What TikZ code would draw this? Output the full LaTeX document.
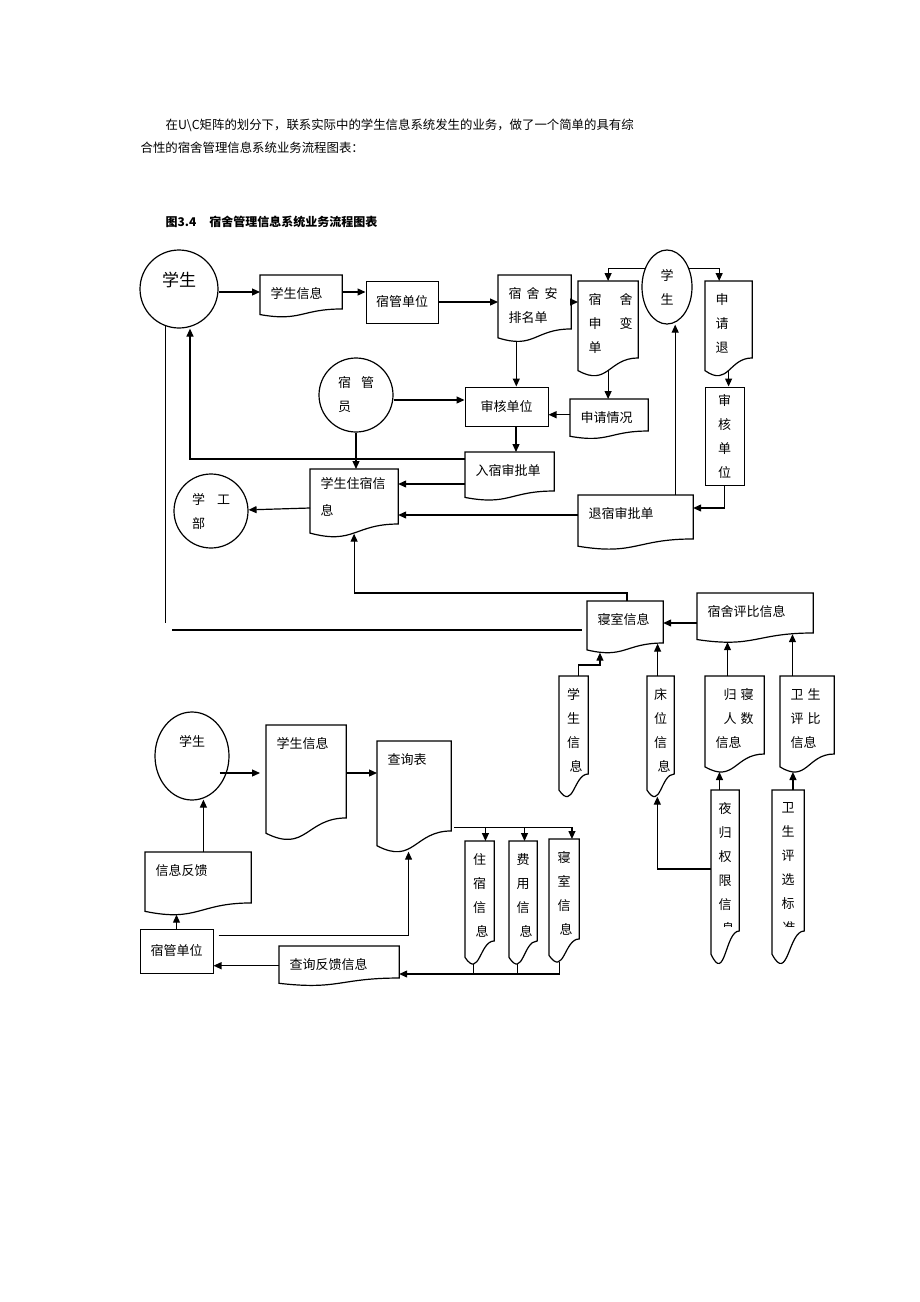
\documentclass[tikz,border=0pt]{standalone}
\usepackage{fontspec}
\setmainfont{Noto Sans CJK SC}
\usepackage{tikz}
\usetikzlibrary{arrows.meta,calc,shapes.geometric}

% document symbol: box with a wavy bottom
\newcommand{\wavedoc}[1]{%
  \draw (#1.north west) -- (#1.north east)
    -- ($(#1.north east)!0.8126!(#1.south east)$)
    .. controls ($(#1.north)!0.8126!(#1.south)$) and ($(#1.north)!1.1216!(#1.south)$)
    .. ($(#1.north west)!0.9463!(#1.south west)$) -- cycle;}

\begin{document}
\begin{tikzpicture}[x=1pt,y=-1pt,line width=1.2pt,
    arr/.style={-{Triangle[length=8pt,width=7pt]}},
    rbox/.style={draw,rectangle,inner sep=0pt,line width=1pt,align=center,font=\fontsize{13pt}{24pt}\selectfont},
    circ/.style={draw,circle,inner sep=0pt,align=left,font=\fontsize{13pt}{24pt}\selectfont},
    oval/.style={draw,ellipse,inner sep=0pt,align=center,font=\fontsize{13pt}{24pt}\selectfont},
    docu/.style 2 args={anchor=north west,inner sep=0pt,font=\fontsize{13pt}{24pt}\selectfont,
      execute at begin node={\begin{minipage}[t][#2pt][t]{#1pt}\raggedright\leftskip=10pt\vspace*{12pt}},
      execute at end node={\end{minipage}}},
    para/.style={anchor=west,inner sep=0pt,font=\fontsize{12.4pt}{16pt}\selectfont}
  ]
\path[fill=white,use as bounding box] (0,0) rectangle (920,1302);

\node[para] (intro1) at (165,125) {在U\textbackslash C矩阵的划分下，联系实际中的学生信息系统发生的业务，做了一个简单的具有综};
\node[para] (intro2) at (140,148) {合性的宿舍管理信息系统业务流程图表：};
\node[para,font=\fontsize{12pt}{16pt}\selectfont] (title) at (165,222) {\textbf{图3.4}\hspace{13pt}\textbf{宿舍管理信息系统业务流程图表}};

% upper chart
\node[circ,minimum size=78pt,font=\fontsize{17pt}{20pt}\selectfont] (stuA) at (179,289) {\raisebox{2.5pt}[0pt][0pt]{学生}};
\node[docu={81}{40.6}] (sinfoA) at (260,275) {学生信息};
\wavedoc{sinfoA}
\node[rbox,minimum width=72pt,minimum height=42pt] (sgdwA) at (402,302) {宿管单位};
\node[docu={72}{65.2}] (apdA) at (498,275) {宿\hspace{5pt}舍\hspace{5pt}安\\排名单};
\wavedoc{apdA}
\node[docu={59}{93.5}] (sqbdA) at (578,281) {宿\hspace{18pt}舍\\申\hspace{18pt}变\\单};
\wavedoc{sqbdA}
\node[oval,minimum width=50pt,minimum height=74pt] (stuB) at (667,287) {学\\生};
\node[docu={46}{93.5}] (sqtA) at (705,281) {申\\请\\退};
\wavedoc{sqtA}
\node[rbox,minimum width=39pt,minimum height=98pt] (shdwB) at (724.5,436) {审\\核\\单\\位};
\node[docu={114}{52.9}] (tsspd) at (578,495) {退宿审批单};
\wavedoc{tsspd}
\node[rbox,minimum width=83pt,minimum height=39pt] (shdwA) at (506.5,406.5) {审核单位};
\node[docu={77}{38.2}] (sqqk) at (570,399) {申请情况};
\wavedoc{sqqk}
\node[circ,minimum size=74pt] (sgy) at (356,395) {宿\hspace{10pt}管\\员};
\node[docu={88}{46.8}] (rsspd) at (465,452) {入宿审批单};
\wavedoc{rsspd}
\node[docu={87}{66.5}] (zsxx) at (310,469) {\vspace*{-4pt}学生住宿信\\[3pt]息};
\wavedoc{zsxx}
\node[circ,minimum size=74pt] (xgb) at (211,511) {学\hspace{12pt}工\\部};

\node[docu={75}{50.5}] (qsxxA) at (587,601) {寝室信息};
\wavedoc{qsxxA}
\node[docu={115}{48}] (pbxx) at (697,593) {宿舍评比信息};
\wavedoc{pbxx}
\node[docu={28}{119.4}] (xsxxV) at (559,676) {\centering 学\\生\\信\\息};
\wavedoc{xsxxV}
\node[docu={26}{119.4}] (cwxx) at (647,676) {\centering 床\\位\\信\\息};
\wavedoc{cwxx}
\node[docu={58}{94.8}] (gqrs) at (705,676) {\leftskip=18pt 归\hspace{4pt}寝\\人\hspace{4pt}数\\信息};
\wavedoc{gqrs}
\node[docu={53}{94.8}] (wspb) at (780,676) {卫\hspace{4pt}生\\评\hspace{4pt}比\\信息};
\wavedoc{wspb}
\begin{scope}
  \clip (711,790) rectangle (738,926);
  \node[docu={27}{172.3}] (ygqx) at (711,790) {\centering 夜\\归\\权\\限\\信\\息};
\end{scope}
\wavedoc{ygqx}
\begin{scope}
  \clip (772,790) rectangle (803,926);
  \node[docu={31}{172.3}] (wspx) at (772,790) {\centering 卫\\生\\评\\选\\标\\准};
\end{scope}
\wavedoc{wspx}

\draw[arr] ([yshift=-3pt]stuA.east) coordinate (st1) -- (st1 -| sinfoA.west);
\draw[arr] (st1 -| sinfoA.east) -- (st1 -| sgdwA.west);
\draw[arr] (sgdwA.east) -- (sgdwA.east -| apdA.west);
\draw[arr] (sgdwA.east -| apdA.east) -- (sgdwA.east -| sqbdA.west);
\draw[arr] (stuB.140) -| (sqbdA.north);
\draw[arr] (stuB.40) -| ($(sqtA.north west)!.3!(sqtA.north east)$);
\draw[arr] ($(apdA.south west)!.25!(apdA.south east)$) coordinate (apd1) -- (apd1 |- shdwA.north);
\draw[arr] ([yshift=5pt]sqbdA.south) coordinate (sqb1) -- (sqb1 |- sqqk.north);
\draw[arr] ([yshift=4pt]sqqk.west) coordinate (sqq1) -- (sqq1 -| shdwA.east);
\draw[arr] ([yshift=-5pt]sgy.east) coordinate (sgy1) -- (sgy1 -| shdwA.west);
\draw[arr] ([xshift=9.5pt]shdwA.south) coordinate (shd1) -- (shd1 |- rsspd.north);
\draw[arr] (sgy.south) -- (sgy.south |- zsxx.north);
\draw[arr] ([yshift=-7pt]rsspd.north west) -| ([xshift=11pt]stuA.south);
\draw[arr] ([yshift=-32pt]rsspd.north west) coordinate (rs1) -- (rs1 -| zsxx.east);
\draw[arr] ([yshift=-20pt]tsspd.north west) coordinate (ts1) -- (ts1 -| zsxx.east);
\draw[arr] ([yshift=-39pt]zsxx.north west) -- (xgb);
\draw[arr] ([yshift=5pt]sqtA.south) coordinate (sqt1) -- (sqt1 |- shdwB.north);
\draw[arr] (shdwB.south) |- ([yshift=-13pt]tsspd.north east);
\draw[arr] ([xshift=-18pt]tsspd.north east) coordinate (ts2) -- (ts2 |- stuB.south);

\draw[arr] ([xshift=40pt]qsxxA.north west) coordinate (qs1) -- (qs1 |- pbxx.north) -| ([yshift=3pt]zsxx.south);
\coordinate (lv) at (166,623);
\draw (stuA.250) -- (stuA.250 |- lv);
\coordinate (lh) at (172,630);
\draw[shorten >=5pt] (lh) -- (lh -| qsxxA.west);
\draw[arr] ([yshift=-30pt]pbxx.north west) coordinate (pb1) -- (pb1 -| qsxxA.east);
\draw[arr] ([xshift=5pt]xsxxV.north) -- ++(0,-11) -| ($(qsxxA.south west)!.17!(qsxxA.south east)$);
\draw[arr,shorten >=-9pt] ([xshift=-3pt]cwxx.north) coordinate (cw1) -- (cw1 |- qsxxA.south);
\draw[arr] ($(gqrs.north west)!.38!(gqrs.north east)$) coordinate (gq1) -- (gq1 |- pbxx.south);
\draw[arr,shorten >=-8pt] ($(wspb.north west)!.23!(wspb.north east)$) coordinate (wb1) -- (wb1 |- pbxx.south);
\draw[arr] ($(ygqx.north west)!.3!(ygqx.north east)$) coordinate (yg1) -- (yg1 |- gqrs.south);
\draw[arr] ([yshift=-79pt]ygqx.north west) -| ($(cwxx.south west)!.38!(cwxx.south east)$);
\draw[arr] ($(wspx.north west)!.65!(wspx.north east)$) coordinate (wx1) -- (wx1 |- wspb.south);

% lower chart
\node[oval,minimum width=74pt,minimum height=88pt] (stuC) at (192,756) {\raisebox{10pt}[0pt][0pt]{学生}};
\node[docu={79}{113.2}] (sinfoC) at (266,725) {学生信息};
\wavedoc{sinfoC}
\node[docu={73}{109.5}] (cxb) at (377,741) {查询表};
\wavedoc{cxb}
\node[docu={105}{61.5}] (xxfk) at (145,852) {信息反馈};
\wavedoc{xxfk}
\node[rbox,minimum width=73pt,minimum height=44pt] (sgdwC) at (176.5,951) {宿管单位};
\node[docu={119}{38.2}] (cxfk) at (279,946) {查询反馈信息};
\wavedoc{cxfk}
\node[docu={28}{121.8}] (zsxxB) at (465,841) {\centering 住\\宿\\信\\息};
\wavedoc{zsxxB}
\node[docu={27}{121.8}] (fyxx) at (509,841) {\centering 费\\用\\信\\息};
\wavedoc{fyxx}
\node[docu={29}{121.8}] (qsxxB) at (549,839) {\centering 寝\\室\\信\\息};
\wavedoc{qsxxB}

\draw[arr,shorten >=6pt] ([xshift=-10pt,yshift=-17pt]stuC.east) coordinate (sc1) -- (sc1 -| sinfoC.west);
\draw[arr] (sc1 -| sinfoC.east) -- (sc1 -| cxb.west);
\draw[arr,shorten >=-1pt] ($(xxfk.north west)!.55!(xxfk.north east)$) coordinate (xf1) -- (xf1 |- stuC.south);
\draw[arr] (sgdwC.north) -- (sgdwC.north |- xxfk.south);
\draw[arr] ([xshift=5pt,yshift=-7pt]sgdwC.north east) -| ($(cxb.south west)!.425!(cxb.south east)$);
\draw[arr] (cxfk.west) -- (cxfk.west -| sgdwC.east);
\coordinate (busT) at ($(cxb.north east)!.78!(cxb.south east)+(3,0)$);
\draw[arr] (busT) -| ($(zsxxB.north west)!.7!(zsxxB.north east)$);
\draw[arr] (busT) -| ($(fyxx.north west)!.55!(fyxx.north east)$);
\draw[arr] (busT) -| ($(qsxxB.north west)!.76!(qsxxB.north east)$);
\draw[arr] ($(qsxxB.south west)!.35!(qsxxB.south east)$) -- ++(0,12) coordinate (busB) -- (busB -| cxfk.east);
\draw ($(zsxxB.south west)!.3!(zsxxB.south east)$) coordinate (zb1) -- (zb1 |- busB);
\draw ($(fyxx.south west)!.3!(fyxx.south east)$) coordinate (fb1) -- (fb1 |- busB);
\end{tikzpicture}
\end{document}
